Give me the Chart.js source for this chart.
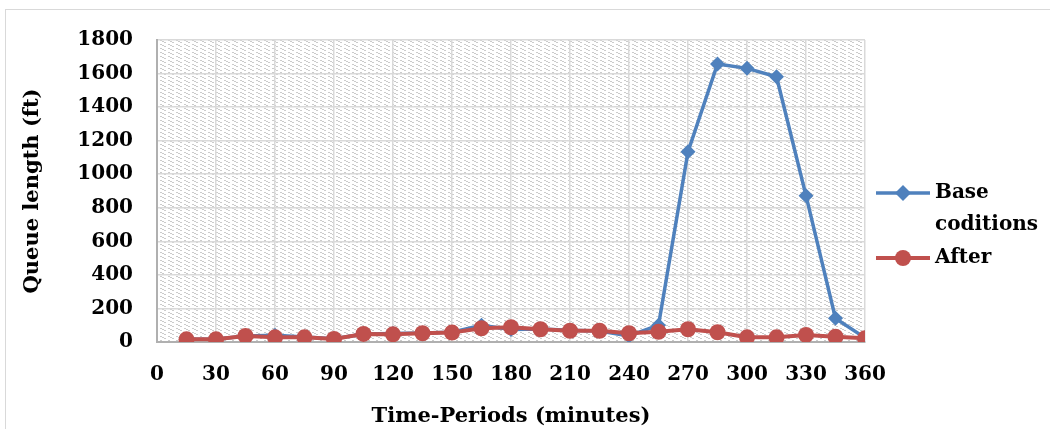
<!DOCTYPE html>
<html>
<head>
<meta charset="utf-8">
<script src="https://cdn.jsdelivr.net/npm/chart.js@4"></script>
<style>
  html, body { margin: 0; padding: 0; background: #ffffff; }
  #wrap { position: relative; width: 1050px; height: 429px; }
</style>
</head>
<body>
<div id="wrap"><canvas id="c" width="1050" height="429"></canvas></div>
<script>
// ---- data ----
const timePeriods = [15, 30, 45, 60, 75, 90, 105, 120, 135, 150, 165, 180, 195, 210, 225, 240, 255, 270, 285, 300, 315, 330, 345, 360];
const baseConditions = [16, 16, 36, 40, 30, 20, 48, 50, 54, 58, 100, 75, 78, 70, 66, 36, 100, 1134, 1657, 1631, 1581, 872, 141, 25];
const afterValues = [16, 16, 36, 28, 28, 18, 48, 46, 52, 56, 82, 88, 76, 67, 67, 52, 61, 76, 58, 28, 28, 42, 32, 22];
const xTicks = [0, 30, 60, 90, 120, 150, 180, 210, 240, 270, 300, 330, 360];
const yTicks = [0, 200, 400, 600, 800, 1000, 1200, 1400, 1600, 1800];
const seriesNames = ['Base', 'coditions'];
const afterName = 'After';
const xTitle = 'Time-Periods (minutes)';
const yTitle = 'Queue length (ft)';

const BLUE = '#4F81BD';
const RED = '#C0504D';
const FONT = "'DejaVu Serif', 'Liberation Serif', serif";

function makePattern(ctx) {
  const t = document.createElement('canvas');
  t.width = 8; t.height = 4;
  const c = t.getContext('2d');
  c.fillStyle = '#ffffff';
  c.fillRect(0, 0, 8, 4);
  c.fillStyle = '#cbcbcb';
  for (let r = 0; r < 3; r++) {
    c.fillRect(2 * r, r, 2, 1);
  }
  return ctx.createPattern(t, 'repeat');
}

const bgPlugin = {
  id: 'bgPattern',
  beforeDraw(chart) {
    const { ctx, chartArea: a } = chart;
    ctx.save();
    ctx.fillStyle = '#ffffff';
    ctx.fillRect(0, 0, chart.width, chart.height);
    ctx.strokeStyle = '#d9d9d9';
    ctx.lineWidth = 1;
    ctx.strokeRect(5.5, 9.5, chart.width + 10, chart.height + 10);
    ctx.fillStyle = makePattern(ctx);
    ctx.fillRect(a.left, a.top, a.right - a.left, a.bottom - a.top);
    ctx.restore();
  }
};

const legendPlugin = {
  id: 'customLegend',
  afterDraw(chart) {
    const { ctx, chartArea: a } = chart;
    const x0 = a.right + 11, x1 = a.right + 65, xm = (x0 + x1) / 2, tx = a.right + 70;
    ctx.save();
    ctx.font = 'bold 20px ' + FONT;
    ctx.textBaseline = 'middle';
    ctx.textAlign = 'left';
    // Base conditions
    let y = 193;
    ctx.strokeStyle = BLUE; ctx.lineWidth = 3.5;
    ctx.beginPath(); ctx.moveTo(x0, y); ctx.lineTo(x1, y); ctx.stroke();
    ctx.fillStyle = BLUE;
    ctx.beginPath();
    ctx.moveTo(xm, y - 8); ctx.lineTo(xm + 8, y); ctx.lineTo(xm, y + 8); ctx.lineTo(xm - 8, y); ctx.closePath(); ctx.fill();
    ctx.fillStyle = '#000000';
    ctx.fillText(seriesNames[0], tx, y);
    ctx.fillText(seriesNames[1], tx, y + 32);
    // After
    y = 258;
    ctx.strokeStyle = RED; ctx.lineWidth = 4;
    ctx.beginPath(); ctx.moveTo(x0, y); ctx.lineTo(x1, y); ctx.stroke();
    ctx.fillStyle = RED;
    ctx.beginPath(); ctx.arc(xm, y, 8, 0, Math.PI * 2); ctx.fill();
    ctx.fillStyle = '#000000';
    ctx.fillText(afterName, tx, y);
    ctx.restore();
  }
};

const ctx = document.getElementById('c').getContext('2d');
new Chart(ctx, {
  type: 'line',
  data: {
    datasets: [
      {
        label: seriesNames.join(' '),
        data: timePeriods.map((t, i) => ({ x: t, y: baseConditions[i] })),
        borderColor: BLUE,
        backgroundColor: BLUE,
        borderWidth: 3.5,
        pointStyle: 'rectRot',
        pointRadius: 7.5,
        pointBorderWidth: 0,
        tension: 0,
        order: 1
      },
      {
        label: afterName,
        data: timePeriods.map((t, i) => ({ x: t, y: afterValues[i] })),
        borderColor: RED,
        backgroundColor: RED,
        borderWidth: 4,
        pointStyle: 'circle',
        pointRadius: 8,
        pointBorderWidth: 0,
        tension: 0,
        order: 0
      }
    ]
  },
  options: {
    responsive: false,
    animation: false,
    layout: { padding: { top: 40, right: 185, left: 0, bottom: 0 } },
    plugins: {
      legend: { display: false },
      tooltip: { enabled: false }
    },
    scales: {
      x: {
        type: 'linear',
        min: 0, max: 360,
        afterBuildTicks(scale) { scale.ticks = xTicks.map(v => ({ value: v })); },
        afterFit(scale) { scale.height = 87; },
        grid: { color: '#d9d9d9', lineWidth: 1.5, drawTicks: false },
        border: { color: '#b0b0b0', width: 2 },
        ticks: { color: '#000', padding: 21, maxRotation: 0, autoSkip: false, callback: v => String(v), font: { family: FONT, size: 20, weight: 'bold' } },
        title: { display: true, text: xTitle, color: '#000', padding: { top: 7, bottom: 0 }, font: { family: FONT, size: 21, weight: 'bold' } }
      },
      y: {
        min: 0, max: 1800,
        afterBuildTicks(scale) { scale.ticks = yTicks.map(v => ({ value: v })); },
        afterFit(scale) { scale.width = 157; },
        grid: { color: '#d9d9d9', lineWidth: 1.5, drawTicks: false },
        border: { color: '#b0b0b0', width: 2 },
        ticks: { color: '#000', padding: 24, callback: v => String(v), font: { family: FONT, size: 20, weight: 'bold' } },
        title: { display: true, text: yTitle, color: '#000', padding: { top: 20, bottom: 0 }, font: { family: FONT, size: 21, weight: 'bold' } }
      }
    }
  },
  plugins: [bgPlugin, legendPlugin]
});
</script>
</body>
</html>
